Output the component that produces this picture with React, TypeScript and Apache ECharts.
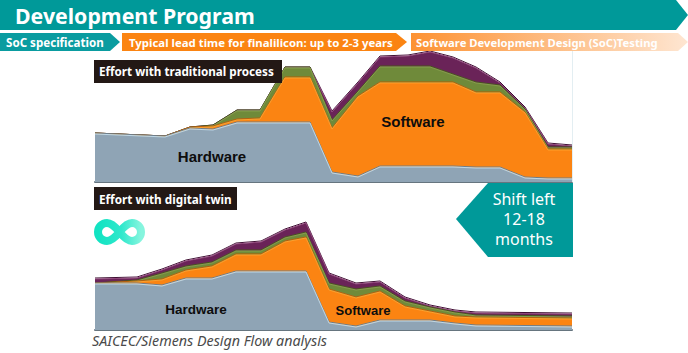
import React, { useEffect, useRef } from "react";
import * as echarts from "echarts";

const seriesNames = ["Hardware", "Software", "Middle layer", "Top layer"];

const topX = [95, 165, 190, 213, 237, 260, 285, 310, 332, 358, 380, 408, 430, 453, 476, 500, 525, 548, 572];
const topHardware = [48, 45, 53, 52, 59, 59, 59, 59, 9, 5, 15, 15, 15, 15, 14, 14, 4, 3, 3];
const topSoftware = [0, 0, 1, 3, 3, 4, 45, 45, 44, 80, 84, 84, 84, 84, 75, 75, 65, 29, 29];
const topGreen = [0, 0, 0, 1, 9, 8, 10, 10, 8, 5, 16, 16, 16, 8, 10, 7, 3, 2, 2];
const topPurple = [0, 0, 0, 0, 0, 0, 0, 0, 9, 9, 10, 11, 15, 17, 15, 3, 2, 4, 2];

const bottomX = [95, 137, 162, 186, 212, 236, 261, 285, 306, 329, 356, 380, 405, 430, 455, 476, 572];
const bottomHardware = [46, 46, 44, 51, 51, 58, 58, 58, 58, 7, 3, 9, 9, 9, 6, 4, 3];
const bottomSoftware = [0, 2, 6, 8, 12, 17, 17, 30, 34, 33, 29, 29, 14, 9, 7, 8, 8];
const bottomGreen = [0, 1, 6, 4, 4, 4, 4, 4, 5, 6, 8, 5, 5, 4, 4, 2, 2];
const bottomPurple = [5, 3, 4, 6, 7, 7, 9, 8, 10, 10, 6, 5, 4, 2, 2, 3, 3];

const fills = ["#8fa4b5", "#fb8412", "#6f8a3a", "#6a2358"];
const edges = ["#bcd8ea", "#ffa02e", "#86a24a", "#8e4579"];
const rims = ["#6c7f8e", "#b85f0a", "#46591f", "#3e1030"];
const layerZ = [5, 4, 3, 2];

const INFINITY =
  "M25.5 13C19 5 16 4 13 4C8 4 4 8 4 13C4 18 8 22 13 22C16 22 19 21 25.5 13C32 5 35 4 38 4C43 4 47 8 47 13C47 18 43 22 38 22C35 22 32 21 25.5 13Z";

const UI = '"Noto Sans", sans-serif';
const LABEL = '"Liberation Sans", Arial, sans-serif';

// Each layer sits on the ones below it; the lower layers are painted last, over the upper ones.
function makeSeries(x: number[], layers: number[][], idx: number) {
  const running = x.map(() => 0);
  return layers.map((vals, i) => {
    vals.forEach((v, k) => {
      running[k] += v;
    });
    return {
      name: seriesNames[i],
      type: "line",
      xAxisIndex: idx,
      yAxisIndex: idx,
      z: layerZ[i],
      symbol: "none",
      showSymbol: false,
      silent: true,
      data: running.map((v, k) => [x[k], v]),
      lineStyle: {
        color: edges[i],
        width: 1,
        shadowColor: rims[i],
        shadowBlur: 0,
        shadowOffsetY: -1,
      },
      areaStyle: { color: fills[i], opacity: 1 },
    };
  });
}

function arrow(points: number[][], fill: any) {
  return { type: "polygon", z: 20, shape: { points }, style: { fill } };
}

function label(text: string, x: number, y: number, size: number, extra: any = {}) {
  return {
    type: "text",
    z: 30,
    style: {
      text,
      x,
      y,
      fill: "#ffffff",
      fontFamily: UI,
      fontSize: size,
      fontWeight: "bold",
      textVerticalAlign: "middle",
      ...extra,
    },
  };
}

export default function App() {
  const ref = useRef<HTMLDivElement>(null);
  useEffect(() => {
    echarts.graphic.registerShape("infinityLogo", echarts.graphic.extendPath(INFINITY, {}));
    const chart = echarts.init(ref.current!, null, { renderer: "svg" });
    const hiddenY = { type: "value", min: 0, show: false };
    const xAxis = (gridIndex: number) => ({
      type: "value",
      gridIndex,
      min: 95,
      max: 572,
      axisLabel: { show: false },
      axisTick: { show: false },
      splitLine: { show: false },
      axisLine: { show: true, lineStyle: { color: "#66757f", width: 2 } },
    });
    chart.setOption({
      animation: false,
      backgroundColor: "#ffffff",
      grid: [
        { left: 95, top: 50, width: 477, height: 132 },
        { left: 95, top: 210, width: 477, height: 120 },
      ],
      xAxis: [xAxis(0), xAxis(1)],
      yAxis: [
        { ...hiddenY, gridIndex: 0, max: 132 },
        { ...hiddenY, gridIndex: 1, max: 120 },
      ],
      series: [
        ...makeSeries(topX, [topHardware, topSoftware, topGreen, topPurple], 0),
        ...makeSeries(bottomX, [bottomHardware, bottomSoftware, bottomGreen, bottomPurple], 1),
      ],
      graphic: {
        elements: [
          { type: "line", z: 1, shape: { x1: 572.5, y1: 51, x2: 572.5, y2: 182 }, style: { stroke: "#e3eef2", lineWidth: 1 } },
          arrow([[0, 0], [676, 0], [688, 15], [676, 30], [0, 30]], "#009999"),
          label("Development Program", 15, 15, 21.3),
          arrow([[0, 33], [110, 33], [120, 42], [110, 51], [0, 51]], "#0a9ca0"),
          label("SoC specification", 6, 42, 11.6),
          arrow([[122, 33], [396, 33], [407, 42], [396, 51], [122, 51]], "#fb8412"),
          label("Typical lead time for finalilicon: up to 2-3 years", 129, 42, 11.4),
          arrow(
            [[411, 33], [678, 33], [688, 42], [678, 51], [411, 51]],
            new echarts.graphic.LinearGradient(0, 0, 1, 0, [
              { offset: 0, color: "#fd9232" },
              { offset: 1, color: "#fee6d2" },
            ])
          ),
          label("Software Development Design (SoC)Testing", 416, 42, 11.25),
          { type: "rect", z: 20, shape: { x: 94, y: 60, width: 188, height: 23 }, style: { fill: "#231815" } },
          label("Effort with traditional process", 99, 71, 11.7),
          { type: "rect", z: 20, shape: { x: 94, y: 187, width: 143, height: 23 }, style: { fill: "#231815" } },
          label("Effort with digital twin", 99, 199, 11.75),
          {
            type: "infinityLogo",
            z: 20,
            x: 94,
            y: 219,
            style: {
              fill: "none",
              lineWidth: 8,
              stroke: new echarts.graphic.LinearGradient(0, 0, 1, 0, [
                { offset: 0, color: "#12e3c2" },
                { offset: 0.55, color: "#2fe8cc" },
                { offset: 1, color: "#86f5de" },
              ]),
            },
          },
          arrow([[456, 219], [488, 183], [573, 183], [573, 257], [488, 257]], "#009999"),
          label("Shift left\n12-18\nmonths", 524, 219, 16, {
            textAlign: "center",
            fontWeight: "normal",
            lineHeight: 20,
          }),
          label("Hardware", 212, 156, 15, { fill: "#0d0d0d", fontFamily: LABEL, textAlign: "center" }),
          label("Software", 413, 121, 15, { fill: "#0d0d0d", fontFamily: LABEL, textAlign: "center" }),
          label("Hardware", 196, 309, 13.5, { fill: "#0d0d0d", fontFamily: LABEL, textAlign: "center" }),
          label("Software", 363, 310, 13, { fill: "#0d0d0d", fontFamily: LABEL, textAlign: "center" }),
          label("SAICEC/Siemens Design Flow analysis", 92, 340, 14.3, {
            fill: "#4a4a4a",
            fontWeight: "normal",
            fontStyle: "italic",
          }),
        ],
      },
    });
    return () => chart.dispose();
  }, []);
  return (
    <div
      ref={ref}
      style={{ position: "absolute", left: 0, top: 0, width: 688, height: 353 }}
    />
  );
}
